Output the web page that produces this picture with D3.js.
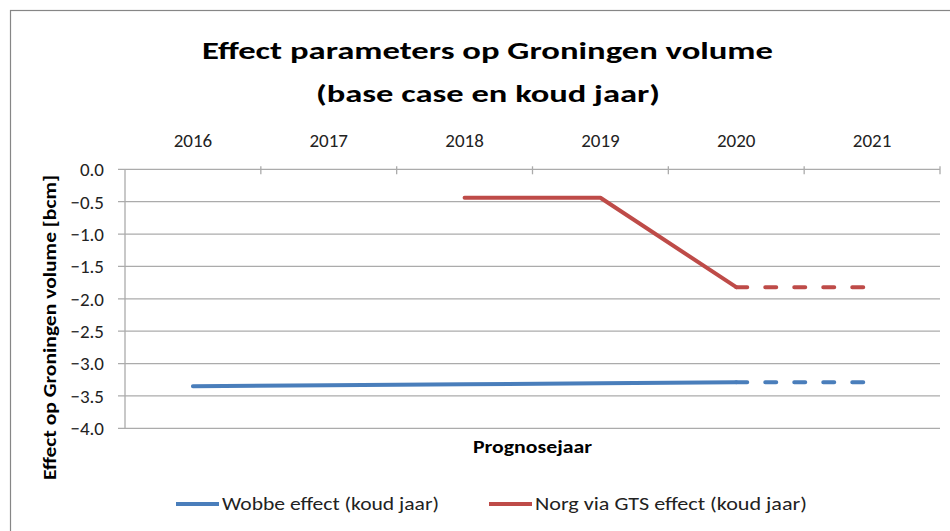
<!DOCTYPE html>
<html><head><meta charset="utf-8">
<script src="https://cdn.jsdelivr.net/npm/d3@7"></script>
<style>
html,body{margin:0;padding:0;background:#fff;}
svg text{font-family:Carlito,Calibri,Lato,"Open Sans",sans-serif;}
</style></head>
<body><svg id="c" width="950" height="531"></svg>
<script>
const years = ["2016","2017","2018","2019","2020","2021"];
const wobbe = [-3.35, -3.335, -3.32, -3.305, -3.29, -3.29];
const norg  = [null, null, -0.44, -0.44, -1.82, -1.82];
const dashedFrom = "2020";
const yTicks = [0, -0.5, -1, -1.5, -2, -2.5, -3, -3.5, -4];
const seriesNames = ["Wobbe effect (koud jaar)", "Norg via GTS effect (koud jaar)"];
const colors = ["#4A7EBB", "#BE4B48"];
const title1 = "Effect parameters op Groningen volume";
const title2 = "(base case en koud jaar)";
const xTitle = "Prognosejaar";
const yTitle = "Effect op Groningen volume [bcm]";

const svg = d3.select("#c");
svg.append("rect").attr("x",10.5).attr("y",10.5).attr("width",960).attr("height",540)
  .attr("fill","#fff").attr("stroke","#868686").attr("stroke-width",1.2);

const L=125, R=940, T=169.3, B=428.3;
const x = d3.scaleBand().domain(years).range([L,R]);
const y = d3.scaleLinear().domain([-4,0]).range([B,T]);
const fmt = d3.format(".1f");

// gridlines
svg.append("g").selectAll("line").data(yTicks).join("line")
  .attr("x1",L-7).attr("x2",R).attr("y1",d=>y(d)).attr("y2",d=>y(d))
  .attr("stroke","#ABABAB").attr("stroke-width",1.3);
svg.append("line").attr("x1",L).attr("x2",L).attr("y1",T).attr("y2",B).attr("stroke","#ABABAB").attr("stroke-width",1.3);
const bounds = years.map(d=>x(d)+x.bandwidth());
svg.append("g").selectAll("line").data(bounds).join("line")
  .attr("x1",d=>d).attr("x2",d=>d).attr("y1",T-3).attr("y2",T+5)
  .attr("stroke","#ABABAB").attr("stroke-width",1.3);

// y tick labels
svg.append("g").selectAll("text").data(yTicks).join("text")
  .attr("x",104).attr("y",d=>y(d)).attr("dy","0.36em").attr("text-anchor","end")
  .attr("font-size",19).attr("fill","#222").text(d=>fmt(d));
// x tick labels
svg.append("g").selectAll("text").data(years).join("text")
  .attr("x",d=>x(d)+x.bandwidth()/2).attr("y",147).attr("text-anchor","middle")
  .attr("font-size",19).attr("fill","#222").text(d=>d);

// titles
svg.append("text").attr("x",487.5).attr("y",58.5).attr("text-anchor","middle")
  .attr("font-size",25).attr("font-weight","bold").attr("fill","#000")
  .attr("textLength",571).attr("lengthAdjust","spacingAndGlyphs").text(title1);
svg.append("text").attr("x",488).attr("y",102).attr("text-anchor","middle")
  .attr("font-size",25).attr("font-weight","bold").attr("fill","#000")
  .attr("textLength",344).attr("lengthAdjust","spacingAndGlyphs").text(title2);
svg.append("text").attr("x",532.5).attr("y",453).attr("text-anchor","middle")
  .attr("font-size",18).attr("font-weight","bold").attr("fill","#000")
  .attr("textLength",119).attr("lengthAdjust","spacingAndGlyphs").text(xTitle);
svg.append("text").attr("transform","translate(56,327.5) rotate(-90)").attr("text-anchor","middle")
  .attr("font-size",17).attr("font-weight","bold").attr("fill","#000")
  .attr("textLength",305).attr("lengthAdjust","spacingAndGlyphs").text(yTitle);

// series
const cx = d=>x(d)+x.bandwidth()/2;
const line = d3.line().defined(d=>d.v!==null).x(d=>cx(d.yr)).y(d=>y(d.v));
const di = years.indexOf(dashedFrom);
[wobbe, norg].forEach((vals,i)=>{
  const pts = years.map((yr,k)=>({yr, v: vals[k]}));
  svg.append("path").datum(pts.slice(0,di+1)).attr("d",line).attr("fill","none")
    .attr("stroke",colors[i]).attr("stroke-width",4).attr("stroke-linecap","round").attr("stroke-linejoin","round");
  svg.append("path").datum(pts.slice(di)).attr("d",line).attr("fill","none")
    .attr("stroke",colors[i]).attr("stroke-width",4).attr("stroke-linecap","round")
    .attr("stroke-dasharray","11,18");
});

// legend
const legX = [176, 489];
const legW = [217, 272];
seriesNames.forEach((n,i)=>{
  svg.append("line").attr("x1",legX[i]).attr("x2",legX[i]+43).attr("y1",504).attr("y2",504)
    .attr("stroke",colors[i]).attr("stroke-width",4);
  svg.append("text").attr("x",legX[i]+46).attr("y",504).attr("dy","0.35em")
    .attr("font-size",18).attr("fill","#222")
    .attr("textLength",legW[i]).attr("lengthAdjust","spacingAndGlyphs").text(n);
});
</script></body></html>
